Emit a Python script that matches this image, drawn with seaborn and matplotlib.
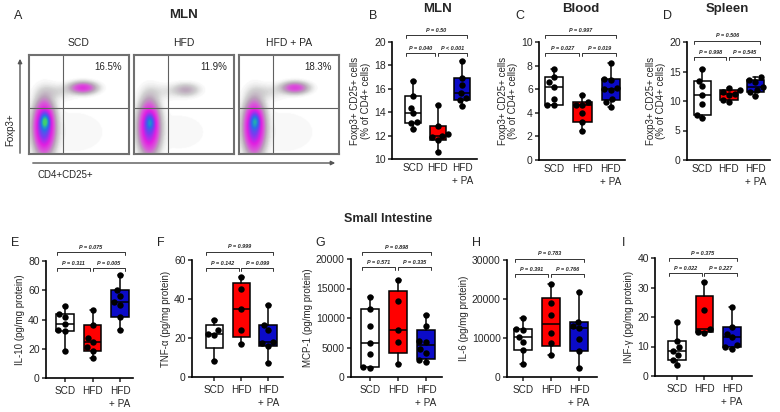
import numpy as np
import pandas as pd
import matplotlib
matplotlib.use('Agg')
import matplotlib.pyplot as plt
import seaborn as sns
from matplotlib.colors import LinearSegmentedColormap
from matplotlib.patches import FancyArrowPatch

W, H = 780, 412

groups = ['SCD', 'HFD', 'HFD + PA']
tick_labels = ['SCD', 'HFD', 'HFD\n+ PA']
box_colors = ['white', '#ff0000', '#0b0bc8']

# Panel A: flow cytometry of MLN, Foxp3+ vs CD4+CD25+
flow_titles = ['SCD', 'HFD', 'HFD + PA']
flow_percent = ['16.5%', '11.9%', '18.3%']
# populations as (x centre, y centre, x spread, y spread, weight)
flow_scd = [(0.15, 0.27, 0.06, 0.15, 1.0), (0.16, 0.33, 0.03, 0.05, 0.8),
            (0.54, 0.67, 0.08, 0.035, 0.4), (0.27, 0.63, 0.11, 0.05, 0.045),
            (0.45, 0.22, 0.25, 0.17, 0.012)]
flow_hfd = [(0.15, 0.27, 0.06, 0.15, 0.85), (0.16, 0.32, 0.03, 0.05, 0.5),
            (0.52, 0.65, 0.08, 0.04, 0.12), (0.28, 0.63, 0.11, 0.05, 0.03),
            (0.45, 0.22, 0.25, 0.17, 0.01)]
flow_pa = [(0.15, 0.27, 0.06, 0.15, 0.9), (0.16, 0.33, 0.03, 0.05, 0.6),
           (0.56, 0.67, 0.08, 0.035, 0.35), (0.28, 0.63, 0.11, 0.05, 0.04),
           (0.45, 0.22, 0.25, 0.17, 0.012)]

# B-D: Foxp3+ CD25+ cells (% of CD4+ cells)
mln_scd = [12.55, 13.05, 13.2, 13.9, 14.4, 15.4, 16.7]
mln_hfd = [10.6, 11.6, 11.9, 12.0, 12.1, 12.8, 14.6]
mln_pa = [14.5, 15.0, 15.2, 15.6, 16.3, 16.9, 18.4]
blood_scd = [4.65, 4.7, 5.2, 6.2, 6.6, 7.0, 7.7]
blood_hfd = [2.5, 3.2, 4.0, 4.65, 4.7, 4.9, 5.5]
blood_pa = [4.5, 4.9, 5.2, 5.9, 6.0, 6.1, 6.8, 6.9, 8.2]
spleen_scd = [7.1, 7.7, 9.5, 11.0, 12.5, 13.4, 15.5]
spleen_hfd = [9.8, 10.2, 11.0, 11.2, 11.5, 11.8, 12.2]
spleen_pa = [10.8, 11.5, 11.9, 12.3, 13.3, 13.6, 14.0]

# E-I: small intestine cytokines (pg/mg protein)
il10_scd = [18.5, 32, 33, 37, 42, 44, 49.5]
il10_hfd = [14, 18.5, 21, 24.5, 27.5, 36, 46.5]
il10_pa = [33, 42, 50, 52, 56, 60, 70.5]
tnf_scd = [8, 21.7, 22, 24.3, 29.4]
tnf_hfd = [17, 24.3, 34.9, 45.3, 51.5]
tnf_pa = [7.2, 15.7, 17.4, 17.8, 24.3, 26.8, 36.8]
mcp1_scd = [1500, 1700, 3900, 5800, 8600, 11500, 13500]
mcp1_hfd = [2200, 6000, 8000, 12800, 16500]
mcp1_pa = [2600, 2800, 4100, 4700, 6000, 6100, 8700, 10500]
il6_scd = [3400, 7000, 9000, 10300, 12000, 12300, 15200]
il6_hfd = [5600, 8700, 11400, 15800, 19000, 23800]
il6_pa = [2300, 6700, 9800, 12500, 13000, 14100, 21800]
infg_scd = [3.6, 5.4, 7.0, 8.6, 9.8, 12.0, 18.4]
infg_hfd = [14.7, 15.0, 16.0, 22.5, 31.8]
infg_pa = [9.2, 9.8, 10.5, 13.1, 14.4, 16.5, 23.5]

# P values: SCD vs HFD, HFD vs HFD+PA, SCD vs HFD+PA
p_mln = ['P = 0.040', 'P < 0.001', 'P = 0.50']
p_blood = ['P = 0.027', 'P = 0.019', 'P = 0.997']
p_spleen = ['P = 0.998', 'P = 0.545', 'P = 0.506']
p_il10 = ['P = 0.311', 'P = 0.005', 'P = 0.075']
p_tnf = ['P = 0.142', 'P = 0.099', 'P = 0.999']
p_mcp1 = ['P = 0.571', 'P = 0.335', 'P = 0.898']
p_il6 = ['P = 0.391', 'P = 0.766', 'P = 0.783']
p_infg = ['P = 0.022', 'P = 0.227', 'P = 0.375']

sns.set_theme(style='ticks')
plt.rcParams['font.family'] = ['Liberation Sans', 'DejaVu Sans']

fig = plt.figure(figsize=(W / 100, H / 100), dpi=100)


def rect(l, t, r, b):
    return [l / W, 1 - b / H, (r - l) / W, (b - t) / H]


def ftext(x, y, s, **kw):
    fig.text(x / W, 1 - y / H, s, ha=kw.pop('ha', 'center'), va=kw.pop('va', 'center'), **kw)


# ---- Panel A: flow plots ----
flow_cmap = LinearSegmentedColormap.from_list('flow', [
    (0.0, 'white'), (0.008, '#f2f2f2'), (0.03, '#d2d2d2'), (0.08, '#b9a3b9'),
    (0.16, '#d85ad8'), (0.3, '#e21ee2'), (0.5, '#7a3cf0'), (0.7, '#2a6ee8'),
    (0.86, '#20a0c0'), (1.0, '#40d070')])

grid = np.linspace(0, 1, 160)
GX, GY = np.meshgrid(grid, grid)
flow_left = [29, 134, 239]
for left, title, pct, pops in zip(flow_left, flow_titles, flow_percent,
                                  [flow_scd, flow_hfd, flow_pa]):
    ax = fig.add_axes(rect(left, 55, left + 100, 154))
    dens = np.zeros_like(GX)
    for cx, cy, sx, sy, w in pops:
        dens += w * np.exp(-((GX - cx) ** 2 / (2 * sx ** 2) + (GY - cy) ** 2 / (2 * sy ** 2)))
    ax.imshow(dens / 1.6, cmap=flow_cmap, vmin=0, vmax=1, origin='lower',
              extent=(0, 1, 0, 1), aspect='auto', interpolation='bilinear')
    ax.axvline(0.34, color='#606060', lw=0.8)
    ax.axhline(0.46, color='#606060', lw=0.8)
    ax.text(0.93, 0.88, pct, transform=ax.transAxes, ha='right', va='center', fontsize=7)
    ax.set_xticks([])
    ax.set_yticks([])
    for sp in ax.spines.values():
        sp.set_color('#707070')
        sp.set_linewidth(1.5)
    ftext(left + 50, 43, title, fontsize=7.5)

ftext(18, 16, 'A', fontsize=9)
ftext(183, 15, 'MLN', fontsize=9.5, fontweight='bold')
ftext(10, 130, 'Foxp3+', fontsize=7, rotation=90)
ftext(65, 175, 'CD4+CD25+', fontsize=7)
fig.add_artist(FancyArrowPatch((20 / W, 1 - 156 / H), (20 / W, 1 - 56 / H),
                               transform=fig.transFigure, arrowstyle='-|>',
                               mutation_scale=6, color='#555555', lw=1))
fig.add_artist(FancyArrowPatch((30 / W, 1 - 163 / H), (338 / W, 1 - 163 / H),
                               transform=fig.transFigure, arrowstyle='-|>',
                               mutation_scale=6, color='#555555', lw=1))

# ---- Panels B-I: box plots ----
top_label = 'Foxp3+ CD25+ cells\n(% of CD4+ cells)'
panels = [
    # letter, data, pvals, pixel rect, xlim, ylim, yticks, ylabel, bracket fractions, top row
    ('B', [mln_scd, mln_hfd, mln_pa], p_mln, (392, 42, 477, 159), (-0.87, 2.6),
     (10, 20), [10, 12, 14, 16, 18, 20], top_label, (0.906, 1.06), True),
    ('C', [blood_scd, blood_hfd, blood_pa], p_blood, (539, 42, 625, 160), (-0.52, 2.5),
     (0, 10), [0, 2, 4, 6, 8, 10], top_label, (0.906, 1.06), True),
    ('D', [spleen_scd, spleen_hfd, spleen_pa], p_spleen, (687, 42, 770, 160), (-0.58, 2.55),
     (0, 20), [0, 5, 10, 15, 20], top_label, (0.87, 1.01), True),
    ('E', [il10_scd, il10_hfd, il10_pa], p_il10, (46, 261, 133, 378), (-0.69, 2.47),
     (0, 80), [0, 20, 40, 60, 80], 'IL-10 (pg/mg protein)', (0.94, 1.077), False),
    ('F', [tnf_scd, tnf_hfd, tnf_pa], p_tnf, (192, 260, 283, 377), (-0.83, 2.55),
     (0, 60), [0, 20, 40, 60], 'TNF-α (pg/mg protein)', (0.93, 1.07), False),
    ('G', [mcp1_scd, mcp1_hfd, mcp1_pa], p_mcp1, (351, 259, 442, 377), (-0.68, 2.57),
     (0, 20000), [0, 5000, 10000, 15000, 20000], 'MCP-1 (pg/mg protein)', (0.93, 1.06), False),
    ('H', [il6_scd, il6_hfd, il6_pa], p_il6, (507, 260, 597, 377), (-0.57, 2.64),
     (0, 30000), [0, 10000, 20000, 30000], 'IL-6 (pg/mg protein)', (0.88, 1.01), False),
    ('I', [infg_scd, infg_hfd, infg_pa], p_infg, (655, 258, 752, 376), (-0.8, 2.73),
     (0, 40), [0, 10, 20, 30, 40], 'INF-γ (pg/mg protein)', (0.87, 1.0), False),
]

for letter, data, pvals, px, xlim, ylim, yticks, ylabel, brk, top in panels:
    ax = fig.add_axes(rect(*px))

    # box: quartiles by the (n+1)p rule, whiskers min to max
    stats = []
    for vals in data:
        v = np.asarray(vals, dtype=float)
        q1, med, q3 = np.percentile(v, [25, 50, 75], method='weibull')
        stats.append(dict(med=med, q1=q1, q3=q3, whislo=v.min(), whishi=v.max(), fliers=[]))
    parts = ax.bxp(stats, positions=[0, 1, 2], widths=0.65, patch_artist=True,
                   showfliers=False, manage_ticks=False, capwidths=0.18,
                   boxprops=dict(linewidth=1.1, edgecolor='black'),
                   medianprops=dict(color='black', linewidth=1.1),
                   whiskerprops=dict(color='black', linewidth=1.1),
                   capprops=dict(color='black', linewidth=1.1))
    for patch, c in zip(parts['boxes'], box_colors):
        patch.set_facecolor(c)

    df = pd.DataFrame({'group': np.repeat(groups, [len(d) for d in data]),
                       'value': np.concatenate(data)})
    sns.swarmplot(data=df, x='group', y='value', order=groups, color='black',
                  size=4.6, ax=ax, zorder=4)

    ax.set_xlim(*xlim)
    ax.set_ylim(*ylim)
    ax.set_yticks(yticks)
    ax.set_xticks([0, 1, 2])
    ax.set_xticklabels(tick_labels, fontsize=7.2, linespacing=1.3)
    ax.tick_params(axis='y', labelsize=7.5, length=3, width=1.1, pad=1.5)
    ax.tick_params(axis='x', length=0 if top else 3, width=1.1, pad=3)
    ax.set_xlabel('')
    ax.set_ylabel(ylabel, fontsize=7, labelpad=2, linespacing=1.1)
    sns.despine(ax=ax)
    for sp in ['left', 'bottom']:
        ax.spines[sp].set_linewidth(1.2)
        ax.spines[sp].set_color('black')

    # significance brackets
    tr = ax.get_xaxis_transform()
    spans = [(-0.3, 0.9, brk[0]), (1.0, 2.18, brk[0]), (-0.3, 2.18, brk[1])]
    for (x0, x1, yb), ptxt in zip(spans, pvals):
        ax.plot([x0, x0, x1, x1], [yb - 0.025, yb, yb, yb - 0.025], color='#333333',
                lw=0.7, transform=tr, clip_on=False)
        ax.text((x0 + x1) / 2, yb + 0.02, ptxt, transform=tr, ha='center', va='bottom',
                fontsize=4, fontweight='bold', style='italic', clip_on=False)

    # panel letter
    lx = px[0] - (19 if top else 31)
    ftext(lx, 16 if top else 243, letter, fontsize=9)

ftext(437, 9, 'MLN', fontsize=9.5, fontweight='bold')
ftext(581, 9, 'Blood', fontsize=9.5, fontweight='bold')
ftext(727, 9, 'Spleen', fontsize=9.5, fontweight='bold')
ftext(388, 219, 'Small Intestine', fontsize=9, fontweight='bold')

fig.savefig('out.png', dpi=100)
